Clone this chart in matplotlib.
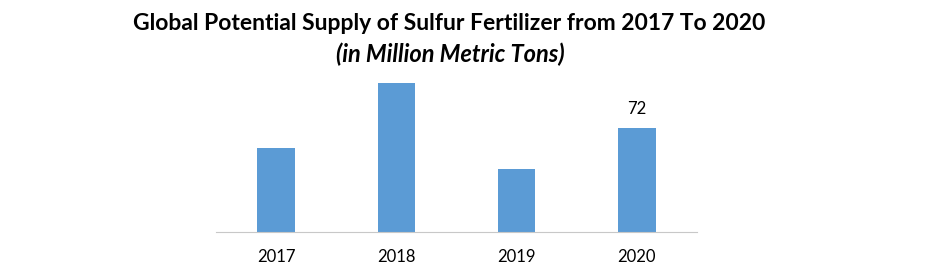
import matplotlib
matplotlib.use("Agg")
import matplotlib.pyplot as plt

years = ["2017", "2018", "2019", "2020"]
supply = [58.2, 103.2, 43.6, 72]
labelled = [False, False, False, True]

title_main = "Global Potential Supply of Sulfur Fertilizer from 2017 To 2020"
title_sub = "(in Million Metric Tons)"

plt.rcParams['font.family'] = ['Lato', 'DejaVu Sans']

fig = plt.figure(figsize=(9.41, 2.66), dpi=100)
ax = fig.add_axes([216/941, 1-232/266, (697-216)/941, (232-73)/266])

x = range(len(years))
bars = ax.bar(x, supply, width=0.31, color="#5B9BD5")
ax.set_xlim(-0.5, len(years)-0.5)
ax.set_ylim(0, 110)
ax.set_xticks(list(x))
ax.set_xticklabels(years, fontsize=12)
ax.tick_params(axis='x', length=0, pad=12)
ax.set_yticks([])
for s in ["left", "right", "top"]:
    ax.spines[s].set_visible(False)
ax.spines["bottom"].set_color("#C8C8C8")
ax.spines["bottom"].set_linewidth(0.8)

for i, (v, show) in enumerate(zip(supply, labelled)):
    if show:
        ax.annotate(f"{v:g}", (i, v), xytext=(0, 8), textcoords="offset points",
                    ha="center", va="bottom", fontsize=12)

fig.text(449/941, 1-23/266, title_main, ha="center", va="center",
         fontsize=16.5, fontweight="bold")
fig.text(450/941, 1-54/266, title_sub, ha="center", va="center",
         fontsize=17, fontweight="bold", fontstyle="italic")

fig.savefig("out.png", dpi=100)
